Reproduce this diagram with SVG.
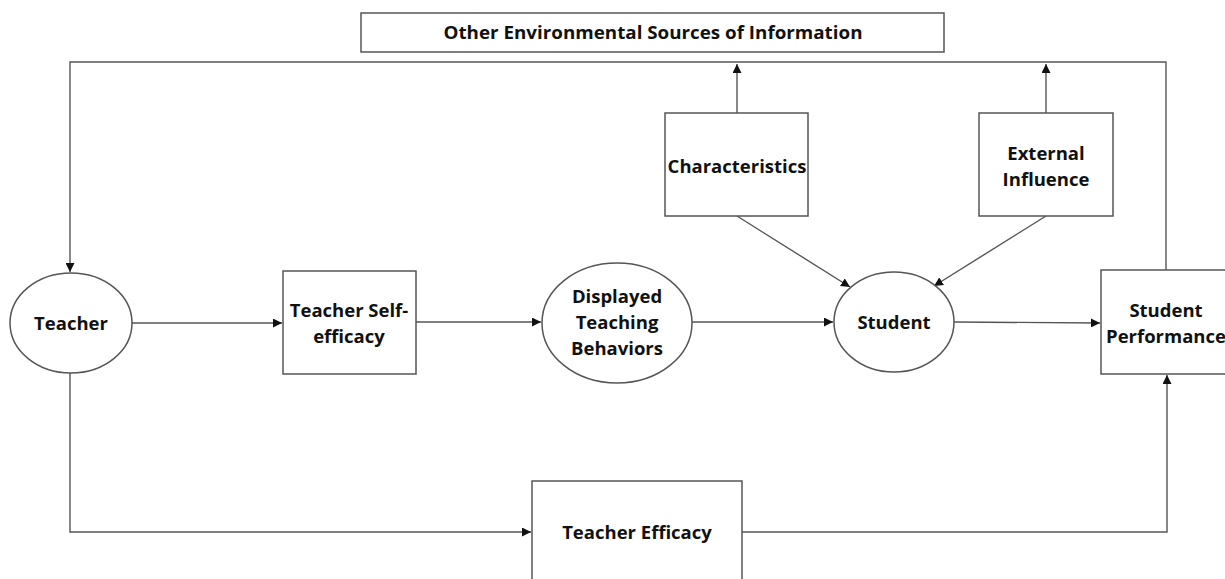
<svg xmlns="http://www.w3.org/2000/svg" width="1225" height="579" viewBox="0 0 1225 579">
<style>
.box{fill:#fff;stroke:#555;stroke-width:1.5}
.ln{fill:none;stroke:#555;stroke-width:1.4}
.t{font-family:"Open Sans","Liberation Sans",sans-serif;font-weight:bold;font-size:18.5px;fill:#111;text-anchor:middle}
</style>
<defs>
<marker id="ah" viewBox="0 0 10 10" refX="10" refY="5" markerWidth="9" markerHeight="9" markerUnits="userSpaceOnUse" orient="auto">
<path d="M0,0 L10,5 L0,10 z" fill="#111"/>
</marker>
</defs>
<rect width="1225" height="579" fill="#fff"/>
<g id="connectors">
<path class="ln" d="M1166,270 V62 H70 V272" marker-end="url(#ah)"/>
<path class="ln" d="M737,113 V64" marker-end="url(#ah)"/>
<path class="ln" d="M1046,113 V64" marker-end="url(#ah)"/>
<path class="ln" d="M132,323 H282" marker-end="url(#ah)"/>
<path class="ln" d="M416,322 H541" marker-end="url(#ah)"/>
<path class="ln" d="M692,322 H833" marker-end="url(#ah)"/>
<path class="ln" d="M954,322 L1100,323" marker-end="url(#ah)"/>
<path class="ln" d="M737,216 L850,287" marker-end="url(#ah)"/>
<path class="ln" d="M1046,216 L934,286" marker-end="url(#ah)"/>
<path class="ln" d="M70,373 V532 H531" marker-end="url(#ah)"/>
<path class="ln" d="M742,532 H1167 V375" marker-end="url(#ah)"/>
</g>
<g id="other-sources">
<rect class="box" x="361" y="13" width="583" height="39"/>
<text class="t" x="653" y="39" font-size="17" style="font-size:17px" textLength="419" lengthAdjust="spacingAndGlyphs">Other Environmental Sources of Information</text>
</g>
<g id="characteristics">
<rect class="box" x="665" y="113" width="143" height="103"/>
<text class="t" x="737" y="173">Characteristics</text>
</g>
<g id="external-influence">
<rect class="box" x="979" y="113" width="134" height="103"/>
<text class="t" x="1046" y="160">External</text>
<text class="t" x="1046" y="186">Influence</text>
</g>
<g id="teacher">
<ellipse class="box" cx="71" cy="323" rx="61" ry="50"/>
<text class="t" x="71" y="330">Teacher</text>
</g>
<g id="teacher-self-efficacy">
<rect class="box" x="283" y="271" width="133" height="103"/>
<text class="t" x="349" y="317">Teacher Self-</text>
<text class="t" x="349" y="343">efficacy</text>
</g>
<g id="displayed-teaching-behaviors">
<ellipse class="box" cx="617" cy="323" rx="75" ry="60"/>
<text class="t" x="617" y="303">Displayed</text>
<text class="t" x="617" y="329">Teaching</text>
<text class="t" x="617" y="355">Behaviors</text>
</g>
<g id="student">
<ellipse class="box" cx="894" cy="322" rx="60" ry="50"/>
<text class="t" x="894" y="329">Student</text>
</g>
<g id="student-performance">
<rect class="box" x="1101" y="270" width="140" height="104"/>
<text class="t" x="1166" y="317">Student</text>
<text class="t" x="1166" y="343">Performance</text>
</g>
<g id="teacher-efficacy">
<rect class="box" x="532" y="481" width="210" height="110"/>
<text class="t" x="637" y="539">Teacher Efficacy</text>
</g>
</svg>
